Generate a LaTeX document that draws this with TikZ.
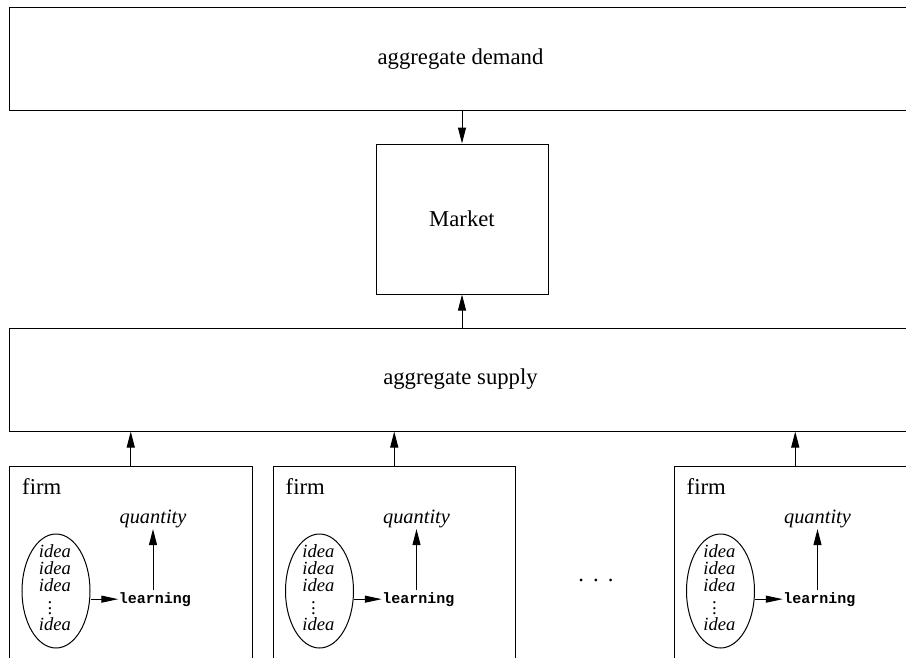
\documentclass[tikz,border=0pt]{standalone}
\usepackage{fontspec}
\setmainfont{Liberation Serif}
\setmonofont{Liberation Mono}
\usetikzlibrary{arrows.meta,shapes.geometric}
\newcommand{\bigfnt}{\fontsize{22.7}{27}\selectfont}
\newcommand{\ideafnt}{\fontsize{18.6}{17}\selectfont\itshape}
\newcommand{\qfnt}{\fontsize{20.4}{24}\selectfont\itshape}
\newcommand{\lfnt}{\fontsize{15}{18}\selectfont\ttfamily\bfseries}
\newcommand{\threedots}{\vbox{\baselineskip=5.7pt\lineskiplimit=-20pt\lineskip=0pt\hbox{.}\hbox{.}\hbox{.}}\kern9pt}
\tikzset{
  box/.style={draw, line width=1pt, inner sep=0pt, font=\bigfnt},
  arr/.style={-{Triangle[length=16pt,width=8pt]}, line width=1pt},
  harr/.style={-{Triangle[length=17pt,width=7pt]}, line width=1pt},
}
\newcommand{\firmunit}[2]{%
\begin{scope}[xshift=#2pt]
  \node[box, minimum width=242.5pt, minimum height=260pt] (#1) at (130.75,596) {};
  \node[anchor=base west, inner sep=0pt, font=\bigfnt] (#1-label) at (22,494) {firm};
  \node[ellipse, draw, line width=1pt, minimum width=68pt, minimum height=114pt, inner sep=0pt] (#1-e) at (56,591) {};
  \node[anchor=north, inner sep=0pt, align=center, font=\ideafnt] (#1-i) at (55,544.3) {idea\\idea\\idea\\[6.5pt]\threedots\\[-1.5pt]idea};
  \node[anchor=base, inner sep=1.5pt, font=\qfnt] (#1-q) at (153,523) {quantity};
  \node[anchor=base, inner xsep=0.5pt, inner ysep=1.5pt, font=\lfnt] (#1-l) at (155,603) {learning};
  \draw[harr] (#1-e.east |- #1-l.west) -- (#1-l.west);
  \draw[arr] (#1-q.south |- #1-l.north) -- (#1-q.south);
\end{scope}
\draw[arr] (#1.north) -- (#1.north |- supply.south);
}
\begin{document}
\begin{tikzpicture}[x=1pt,y=-1pt]
\useasboundingbox (0,0) rectangle (906,657);
\clip (0,0) rectangle (906,657);
\node[box, minimum width=902pt, minimum height=102.5pt] (demand) at (460.5,58.75) {aggregate demand};
\node[box, minimum width=172pt, minimum height=150pt] (market) at (462,219) {Market};
\node[box, minimum width=902pt, minimum height=103pt] (supply) at (460.5,379.5) {aggregate supply};
\draw[arr] (demand.south -| market.north) -- (market.north);
\draw[arr] (market.south |- supply.north) -- (market.south);
\firmunit{firmA}{0}
\firmunit{firmB}{263.5}
\firmunit{firmC}{664.5}
\node[anchor=base, inner sep=0pt, font=\bigfnt] (dots) at (596,581) {.\kern0.4em.\kern0.4em.};
\end{tikzpicture}
\end{document}
